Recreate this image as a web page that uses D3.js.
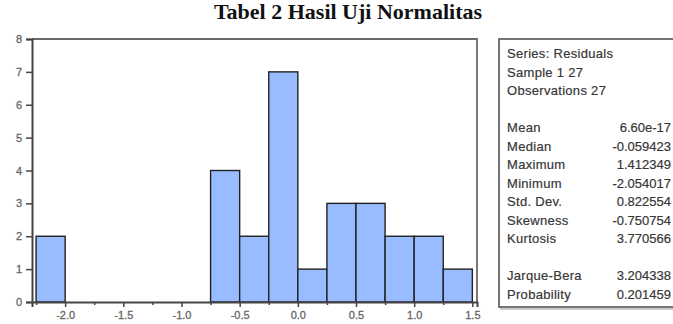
<!DOCTYPE html>
<html>
<head>
<meta charset="utf-8">
<script src="https://cdn.jsdelivr.net/npm/d3@7"></script>
<style>
  html, body { margin: 0; padding: 0; background: #fff; }
  svg { display: block; }
</style>
</head>
<body>
<svg id="chart" width="673" height="324"></svg>
<script>
// ---- data ----
const title = "Tabel 2 Hasil Uji Normalitas";
const binStarts = [-2.25, -2.0, -1.75, -1.5, -1.25, -1.0, -0.75, -0.5, -0.25, 0.0, 0.25, 0.5, 0.75, 1.0, 1.25];
const binWidth = 0.25;
const counts    = [2, 0, 0, 0, 0, 0, 4, 2, 7, 1, 3, 3, 2, 2, 1];
const xTicks = [-2.0, -1.5, -1.0, -0.5, 0.0, 0.5, 1.0, 1.5];
const xMinorTicks = [-2.25, -1.75, -1.25, -0.75, -0.25, 0.25, 0.75, 1.25];
const yTicks = [0, 1, 2, 3, 4, 5, 6, 7, 8];
const headerLines = ["Series: Residuals", "Sample 1 27", "Observations 27"];
const statLabels = ["Mean", "Median", "Maximum", "Minimum", "Std. Dev.", "Skewness", "Kurtosis"];
const statValues = ["6.60e-17", "-0.059423", "1.412349", "-2.054017", "0.822554", "-0.750754", "3.770566"];
const testLabels = ["Jarque-Bera", "Probability"];
const testValues = ["3.204338", "0.201459"];

// ---- layout ----
const svg = d3.select("#chart");
const plot = { left: 32, right: 477, top: 39, bottom: 302 };
const x = d3.scaleLinear().domain([-2.285, 1.54]).range([plot.left, plot.right]);
const y = d3.scaleLinear().domain([0, 8]).range([plot.bottom, plot.top]);

// title
svg.append("text")
  .attr("x", 348).attr("y", 19)
  .attr("text-anchor", "middle")
  .attr("font-family", "'Liberation Serif', 'Times New Roman', serif")
  .attr("font-weight", "bold")
  .attr("font-size", 22)
  .attr("fill", "#111")
  .text(title);

// plot frame (top & right)
svg.append("path")
  .attr("d", `M${plot.left},${plot.top}H${plot.right}V${plot.bottom}`)
  .attr("fill", "none").attr("stroke", "#6a6a6a").attr("stroke-width", 1.8);

// bars
const bins = binStarts.map((s, i) => ({ x0: s, x1: s + binWidth, n: counts[i] })).filter(d => d.n > 0);
svg.append("g").selectAll("rect").data(bins).join("rect")
  .attr("x", d => x(d.x0))
  .attr("y", d => y(d.n))
  .attr("width", d => x(d.x1) - x(d.x0))
  .attr("height", d => y(0) - y(d.n))
  .attr("fill", "#99bbff")
  .attr("stroke", "#222")
  .attr("stroke-width", 1.4);

// axes
const font = "'Liberation Sans', Arial, sans-serif";
const yAxis = d3.axisLeft(y).tickValues(yTicks).tickSize(6).tickPadding(4).tickFormat(d3.format("d"));
const gy = svg.append("g").attr("transform", `translate(${plot.left},0)`).call(yAxis);
gy.select(".domain").attr("stroke", "#444").attr("stroke-width", 2);
gy.selectAll(".tick line").attr("stroke", "#444").attr("stroke-width", 1.5);
gy.selectAll(".tick text").attr("font-family", font)
  .attr("font-size", 11).attr("fill", "#666").attr("stroke", "#666").attr("stroke-width", 0.3);

const xAxis = d3.axisBottom(x).tickValues(xTicks).tickSize(5).tickPadding(4).tickFormat(d => d.toFixed(1));
const gx = svg.append("g").attr("transform", `translate(0,${plot.bottom})`).call(xAxis);
gx.select(".domain").attr("stroke", "#444").attr("stroke-width", 2);
gx.selectAll(".tick line").attr("stroke", "#444").attr("stroke-width", 1.5);
gx.selectAll(".tick text").attr("font-family", font)
  .attr("font-size", 11).attr("fill", "#666").attr("stroke", "#666").attr("stroke-width", 0.3);

const xMinor = d3.axisBottom(x).tickValues(xMinorTicks).tickSize(3).tickFormat("");
const gxm = svg.append("g").attr("transform", `translate(0,${plot.bottom})`).call(xMinor);
gxm.select(".domain").remove();
gxm.selectAll(".tick line").attr("stroke", "#444").attr("stroke-width", 1.5);

// stats box
const box = { left: 499, top: 39, right: 690, bottom: 307 };
svg.append("rect")
  .attr("x", box.left + 2).attr("y", box.top + 2)
  .attr("width", box.right - box.left).attr("height", box.bottom - box.top)
  .attr("fill", "none").attr("stroke", "#bbb").attr("stroke-width", 1.5);
svg.append("rect")
  .attr("x", box.left).attr("y", box.top)
  .attr("width", box.right - box.left).attr("height", box.bottom - box.top)
  .attr("fill", "#fff").attr("stroke", "#666").attr("stroke-width", 1.8);

const rowH = 18.5, row0 = 58, labelX = 507, valueX = 671;
const tg = svg.append("g").attr("font-family", font).attr("font-size", 13)
  .attr("fill", "#333").attr("stroke", "#444").attr("stroke-width", 0.2);
const lab = (t, yy) => tg.append("text").attr("x", labelX).attr("y", yy)
  .attr("letter-spacing", 0.3).text(t);
const val = (t, yy) => tg.append("text").attr("x", valueX).attr("y", yy)
  .attr("text-anchor", "end").text(t);
headerLines.forEach((t, i) => lab(t, row0 + i * rowH));
statLabels.forEach((t, i) => {
  const yy = row0 + (i + 4) * rowH;
  lab(t, yy);
  val(statValues[i], yy);
});
testLabels.forEach((t, i) => {
  const yy = row0 + (i + 12) * rowH;
  lab(t, yy);
  val(testValues[i], yy);
});
</script>
</body>
</html>
